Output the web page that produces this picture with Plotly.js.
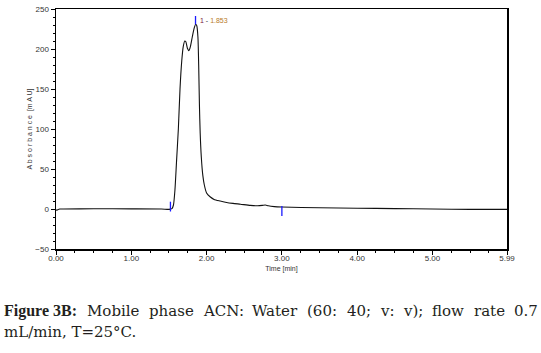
<!DOCTYPE html>
<html>
<head>
<meta charset="utf-8">
<script src="https://cdn.plot.ly/plotly-3.0.1.min.js"></script>
<style>
html,body{margin:0;padding:0;background:#fff;}
#chart{width:541px;height:353px;}
</style>
</head>
<body>
<div id="chart"></div>
<script>
// Chromatogram data (time in min, absorbance in mAU)
var timeMin = [0, 0.01, 0.03, 0.05, 0.1, 0.5, 1.0, 1.4, 1.5, 1.52, 1.54, 1.56, 1.58, 1.60, 1.625, 1.647, 1.67, 1.69, 1.71, 1.725, 1.745, 1.766, 1.785, 1.81, 1.835, 1.855, 1.87, 1.885, 1.895, 1.905, 1.915, 1.93, 1.95, 1.97, 2.0, 2.05, 2.1, 2.18, 2.25, 2.35, 2.45, 2.58, 2.68, 2.74, 2.78, 2.82, 2.9, 3.0, 3.5, 4.0, 4.5, 5.0, 5.5, 5.99];
var absorbance = [-1, -1.5, -0.5, 0, 0, 0.3, 0.2, 0, -0.5, 0, 0.5, 5, 24, 58, 100, 150, 185, 203, 210, 209, 201, 198, 203, 215, 226, 231, 229, 215, 180, 130, 95, 65, 42, 30, 20, 15, 12, 10, 8.5, 7, 6, 4.5, 4, 4.5, 5, 4, 3, 2.5, 1.5, 1, 0.5, 0, -0.5, -0.5];

// Integration event markers
var eventTime = [1.52, 3.0];
var eventValue = [3, -2.5];
var peakTime = [1.853];
var peakValue = [236];

// Axis ticks
var xTickVals = [0, 1, 2, 3, 4, 5, 5.99];
var xTickText = ["0.00", "1.00", "2.00", "3.00", "4.00", "5.00", "5.99"];
var yTickVals = [-50, 0, 50, 100, 150, 200, 250];

var captionBold = "Figure 3B:";
var captionLine1 = "Mobile phase ACN: Water (60: 40; v: v); flow rate 0.7";
var captionLine2 = "mL/min, T=25°C.";

var W = 541, H = 353;
var mL = 56, mR = 34, mT = 9, mB = 104;
var pw = W - mL - mR, ph = H - mT - mB;
function px(x){ return (x - mL) / pw; }
function py(y){ return (H - mB - y) / ph; }

var regFont = {family: 'DejaVu Serif', size: 15, color: '#231f20'};
var boldFont = {family: 'Liberation Serif', size: 16, color: '#231f20'};

var cv = document.createElement('canvas').getContext('2d');
function measure(t, f, bold){ cv.font = (bold ? 'bold ' : '') + f.size + 'px "' + f.family + '"'; return cv.measureText(t).width; }

var annotations = [
  {x: peakTime[0], y: peakValue[0], xref: 'x', yref: 'y', text: '<span style="color:#7a1a3a">1</span> - <span style="color:#b87a2a">1.853</span>',
   showarrow: false, xanchor: 'left', yanchor: 'middle', xshift: 2, font: {size: 7}}
];

// justified first caption line
var words = [{t: captionBold, bold: true}].concat(captionLine1.split(' ').map(function(w){ return {t: w, bold: false}; }));
var leftX = 4, rightX = 538;
var widths = words.map(function(w){ return measure(w.t, w.bold ? boldFont : regFont, w.bold); });
var sum = widths.reduce(function(a, b){ return a + b; }, 0);
var gap = (rightX - leftX - sum) / (words.length - 1);
var cx = leftX;
words.forEach(function(w, i){
  annotations.push({x: px(cx), y: py(311), xref: 'paper', yref: 'paper', xanchor: 'left', yanchor: 'middle',
    text: w.bold ? '<b>' + w.t + '</b>' : w.t, showarrow: false, borderpad: 0, xshift: -1,
    font: w.bold ? boldFont : regFont});
  cx += widths[i] + gap;
});
annotations.push({x: px(leftX), y: py(332), xref: 'paper', yref: 'paper', xanchor: 'left', yanchor: 'middle',
  text: captionLine2, showarrow: false, borderpad: 0, xshift: -1, font: regFont});

var traces = [
  {x: timeMin, y: absorbance, type: 'scatter', mode: 'lines',
   line: {color: '#111', width: 1.1, shape: 'spline', smoothing: 0.6},
   hoverinfo: 'skip', showlegend: false},
  {x: eventTime, y: eventValue, type: 'scatter', mode: 'markers',
   marker: {symbol: 'line-ns', size: 7, line: {color: '#1a1aff', width: 1.3}},
   hoverinfo: 'skip', showlegend: false},
  {x: peakTime, y: peakValue, type: 'scatter', mode: 'markers',
   marker: {symbol: 'line-ns', size: 6, line: {color: '#1a1aff', width: 1.3}},
   hoverinfo: 'skip', showlegend: false}
];

var layout = {
  width: W, height: H,
  margin: {l: mL, r: mR, t: mT, b: mB, pad: 0},
  paper_bgcolor: '#fff', plot_bgcolor: '#fff',
  font: {family: 'Liberation Sans, Arial, sans-serif', size: 8, color: '#333'},
  xaxis: {
    range: [0, 5.99], tickmode: 'array', tickvals: xTickVals, ticktext: xTickText,
    showgrid: false, zeroline: false, showline: true, mirror: true,
    linecolor: '#000', linewidth: 1.5, ticks: 'outside', ticklen: 4, tickwidth: 1, tickcolor: '#000',
    tickfont: {size: 8, color: '#333'}, ticklabelstandoff: -3,
    minor: {tickmode: 'linear', tick0: 0, dtick: 0.25, ticks: 'outside', ticklen: 2, tickcolor: '#000', showgrid: false},
    title: {text: 'Time [min]', font: {size: 7, color: '#333'}, standoff: 4}
  },
  yaxis: {
    range: [-50, 250], tickmode: 'array', tickvals: yTickVals,
    showgrid: false, zeroline: false, showline: true, mirror: true,
    linecolor: '#000', linewidth: 1.5, ticks: 'outside', ticklen: 4, tickwidth: 1, tickcolor: '#000',
    tickfont: {size: 8, color: '#333'},
    minor: {tickmode: 'linear', tick0: 0, dtick: 10, ticks: 'outside', ticklen: 2, tickcolor: '#000', showgrid: false},
    title: {text: 'A b s o r b a n c e  [m A U]', font: {size: 7, color: '#333'}, standoff: 2}
  },
  annotations: annotations
};

Plotly.newPlot('chart', traces, layout, {staticPlot: true, displayModeBar: false});
</script>
</body>
</html>
